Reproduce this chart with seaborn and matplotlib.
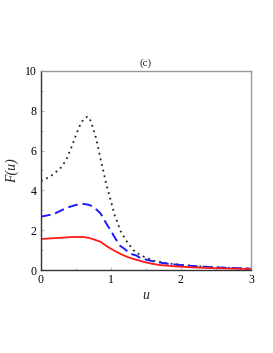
import matplotlib
matplotlib.use("Agg")
import matplotlib.pyplot as plt
import seaborn as sns
from matplotlib.ticker import MultipleLocator

sns.set_style("white")
plt.rcParams['font.family'] = ['Liberation Serif', 'DejaVu Serif']

u_dot = [0.0, 0.13, 0.22, 0.30, 0.37, 0.44, 0.51, 0.57, 0.62, 0.665, 0.69, 0.73, 0.776, 0.82,
         0.86, 0.894, 0.93, 0.966, 1.0, 1.06, 1.09, 1.13, 1.18, 1.23, 1.32, 1.40, 1.47, 1.61,
         1.8, 2.0, 2.25, 2.5, 2.75, 3.0]
f_dot = [4.47, 4.69, 4.94, 5.19, 5.61, 6.2, 6.87, 7.37, 7.62, 7.7, 7.66, 7.29, 6.78, 6.11,
         5.44, 4.94, 4.36, 3.9, 3.45, 2.68, 2.43, 2.0, 1.7, 1.42, 1.0, 0.8, 0.67, 0.47,
         0.34, 0.26, 0.19, 0.14, 0.1, 0.07]

u_dash = [0.0, 0.18, 0.37, 0.5, 0.61, 0.68, 0.75, 0.85, 0.94, 1.01, 1.04, 1.13, 1.18, 1.28,
          1.37, 1.42, 1.61, 1.8, 2.0, 2.25, 2.5, 2.75, 3.0]
f_dash = [2.68, 2.81, 3.13, 3.27, 3.32, 3.28, 3.18, 2.85, 2.3, 1.92, 1.72, 1.22, 1.1, 0.82,
          0.72, 0.6, 0.43, 0.32, 0.25, 0.18, 0.13, 0.1, 0.07]

u_sol = [0.0, 0.28, 0.45, 0.61, 0.70, 0.78, 0.85, 0.94, 0.99, 1.05, 1.13, 1.20, 1.28, 1.39,
         1.47, 1.58, 1.70, 1.94, 2.2, 2.5, 2.75, 3.0]
f_sol = [1.56, 1.62, 1.66, 1.66, 1.6, 1.51, 1.42, 1.2, 1.09, 0.97, 0.82, 0.71, 0.6, 0.49,
         0.41, 0.32, 0.25, 0.18, 0.13, 0.09, 0.07, 0.05]

fig = plt.figure(figsize=(2.73, 3.53), dpi=100)
ax = fig.add_axes([0.150, 0.235, 0.769, 0.564])

sns.lineplot(x=u_dot, y=f_dot, ax=ax, color='#222222', linestyle=(0, (1, 2.2)), linewidth=1.3)
sns.lineplot(x=u_dash, y=f_dash, ax=ax, color='#1a1aff', linestyle=(0, (5, 2.5)), linewidth=1.4)
sns.lineplot(x=u_sol, y=f_sol, ax=ax, color='#ff1a1a', linewidth=1.3)

ax.set_xlim(0, 3)
ax.set_ylim(0, 10)
ax.set_xticks([0, 1, 2, 3])
ax.set_yticks([0, 2, 4, 6, 8, 10])
ax.xaxis.set_minor_locator(MultipleLocator(0.5))
ax.yaxis.set_minor_locator(MultipleLocator(1))
ax.tick_params(axis='both', which='major', direction='in', length=2, width=0.5, labelsize=8.5, pad=3, colors='#999999', labelcolor='black')
ax.tick_params(axis='both', which='minor', direction='in', length=1.5, width=0.5, colors='#999999')
ax.tick_params(bottom=True, left=True, which='both')

for s in ['left', 'bottom']:
    ax.spines[s].set_color('#333333')
    ax.spines[s].set_linewidth(1.0)
for s in ['top', 'right']:
    ax.spines[s].set_color('#999999')
    ax.spines[s].set_linewidth(1.0)

ax.set_title('(c)', fontsize=8, pad=4)
ax.set_xlabel('u', fontsize=10, style='italic', labelpad=2)
ax.set_ylabel('F(u)', fontsize=10, style='italic', labelpad=4)

fig.savefig('out.png', dpi=100)
